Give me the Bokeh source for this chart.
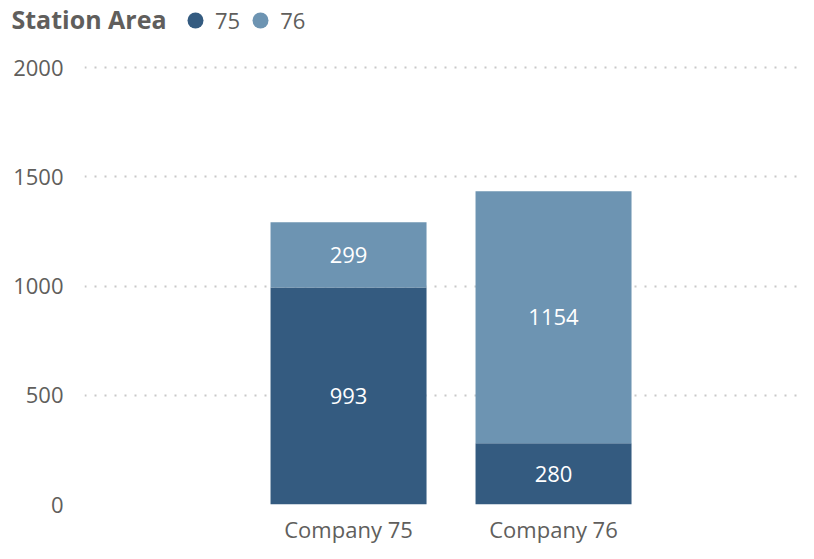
from bokeh.plotting import figure
from bokeh.models import (ColumnDataSource, FixedTicker, Range1d, Legend, LegendItem,
                          LabelSet, Label)
from bokeh.core.properties import value
from bokeh.embed import file_html
from bokeh.resources import INLINE

# ---- data ----
companies = ["Company 75", "Company 76"]
area_75 = [993, 280]
area_76 = [299, 1154]
series = ["75", "76"]
colors = ["#345B80", "#6D94B2"]
y_ticks = [0, 500, 1000, 1500, 2000]
legend_title = "Station Area"

FONT = "Open Sans"
TXT = "#605E5C"
W = 798
HEAD_H = 34

# ---- header: legend ----
head = figure(width=W, height=HEAD_H, x_range=Range1d(0, 1), y_range=Range1d(0, 1),
              x_axis_location=None, y_axis_location=None,
              output_backend="svg", toolbar_location=None,
              min_border_left=0, min_border_right=0, min_border_top=0, min_border_bottom=0,
              background_fill_color="white", border_fill_color="white")
head.outline_line_color = None
head.grid.visible = False
nan = float("nan")
r75 = head.scatter(x=[nan], y=[nan], marker="circle", fill_color=colors[0], line_color=None)
r76 = head.scatter(x=[nan], y=[nan], marker="circle", fill_color=colors[1], line_color=None)
legend = Legend(items=[LegendItem(label=series[0], renderers=[r75]),
                       LegendItem(label=series[1], renderers=[r76])],
                orientation="horizontal", location=(175, -6),
                glyph_width=40, glyph_height=40, label_standoff=0, spacing=0,
                padding=0, margin=0, border_line_color=None, background_fill_alpha=0,
                label_text_font=FONT, label_text_font_size="22px", label_text_color=TXT)
head.add_layout(legend, "center")
head.add_layout(Label(x=11, y=HEAD_H - 18, x_units="screen", y_units="screen",
                      text=legend_title, text_align="left", text_baseline="middle",
                      text_font=FONT, text_font_size="25px", text_font_style="bold",
                      text_color=TXT))

# ---- main chart ----
xs = list(range(len(companies)))
src = ColumnDataSource(dict(
    x=xs,
    a75=area_75,
    a76=area_76,
    y75=[v / 2 for v in area_75],
    y76=[a + b / 2 for a, b in zip(area_75, area_76)],
    t75=[str(v) for v in area_75],
    t76=[str(v) for v in area_76],
))

FRAME_H = 447
PLOT_H = 437  # px from top gridline to zero line
y_end = max(y_ticks) * FRAME_H / PLOT_H

p = figure(frame_width=714, frame_height=FRAME_H,
           x_range=Range1d(-1.288, 2.195), y_range=Range1d(0, y_end),
           output_backend="svg", toolbar_location=None,
           min_border_left=84, min_border_right=0, min_border_top=23, min_border_bottom=0,
           background_fill_color="white", border_fill_color="white")
p.outline_line_color = None

p.vbar_stack(["a75", "a76"], x="x", width=0.761, source=src,
             fill_color=colors, line_color=None)

for col, tcol in (("y75", "t75"), ("y76", "t76")):
    p.add_layout(LabelSet(x="x", y=col, text=tcol, source=src,
                          text_align="center", text_baseline="middle",
                          text_color="white", text_font=value(FONT),
                          text_font_size="22px"))

p.xaxis.ticker = FixedTicker(ticks=xs)
p.xaxis.major_label_overrides = {i: c for i, c in enumerate(companies)}
p.yaxis.ticker = FixedTicker(ticks=y_ticks)
for ax in (p.xaxis, p.yaxis):
    ax.axis_line_color = None
    ax.major_tick_line_color = None
    ax.minor_tick_line_color = None
    ax.major_tick_out = 0
    ax.major_tick_in = 0
    ax.minor_tick_out = 0
    ax.minor_tick_in = 0
    ax.major_label_text_font = FONT
    ax.major_label_text_font_size = "22px"
    ax.major_label_text_color = TXT
p.xaxis.major_label_standoff = 9
p.yaxis.major_label_standoff = 21

p.xgrid.grid_line_color = None
p.ygrid.grid_line_color = "#C8C8C8"
p.ygrid.grid_line_width = 2
p.ygrid.grid_line_dash = "2 8"

open("out.html", "w").write(file_html([head, p], INLINE))
